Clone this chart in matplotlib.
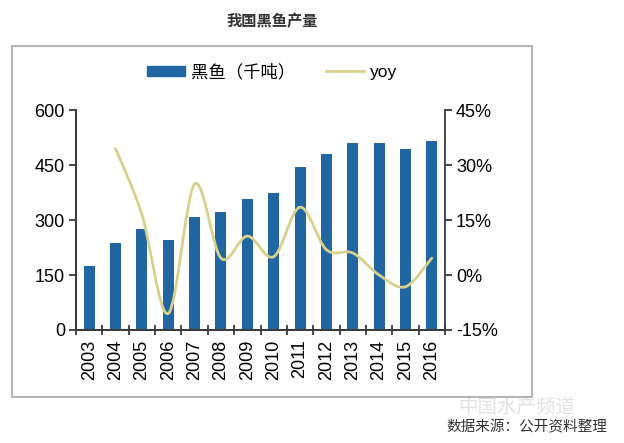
import matplotlib.pyplot as plt
from matplotlib.path import Path
from matplotlib.patches import PathPatch, Rectangle
from matplotlib.lines import Line2D
from matplotlib.ticker import FuncFormatter

plt.rcParams['font.family'] = ['Liberation Sans', 'Noto Sans CJK SC', 'DejaVu Sans']

# 数据
years = ['2003', '2004', '2005', '2006', '2007', '2008', '2009',
         '2010', '2011', '2012', '2013', '2014', '2015', '2016']
output = [175, 236, 276, 246, 309, 323, 357, 375, 445, 479, 509, 509, 494, 516]
yoy = [None, 34.5, 16.5, -10.5, 24.8, 4.6, 10.6, 5.0, 18.5, 6.9, 6.0, 0.0, -3.2, 4.6]

bar_color = '#1f66a3'
line_color = '#d8d18c'
spine_color = '#3a3a3a'

fig = plt.figure(figsize=(6.24, 4.43), dpi=100)
fig.patch.set_facecolor('white')

# 外框
fig.patches.append(Rectangle((12 / 624, 1 - 397 / 443), 520 / 624, 351 / 443,
                             transform=fig.transFigure, fill=False,
                             edgecolor='#b5b5b5', lw=1.5))

ax = fig.add_axes([76 / 624, 1 - 330 / 443, 369 / 624, 220 / 443])
ax2 = ax.twinx()

x = list(range(len(years)))
ax.bar(x, output, width=0.42, color=bar_color, zorder=2)
ax.set_ylim(0, 600)
ax.set_yticks([0, 150, 300, 450, 600])
ax.set_xlim(-0.5, len(years) - 0.5)
ax.set_xticks(x)
ax.set_xticklabels(years, rotation=90)
ax.set_xticks([i - 0.5 for i in range(len(years) + 1)], minor=True)
ax.tick_params(axis='x', which='major', length=0, labelsize=13, pad=7)
ax.tick_params(axis='x', which='minor', direction='inout', length=7,
               width=1.3, color=spine_color)
ax.tick_params(axis='y', direction='out', length=5, width=1.3,
               color=spine_color, labelsize=13, pad=3)

# yoy 平滑曲线（贝塞尔）
pts = [(i, v) for i, v in zip(x, yoy) if v is not None]
verts = [pts[0]]
codes = [Path.MOVETO]
for k in range(len(pts) - 1):
    p0 = pts[k - 1] if k > 0 else pts[k]
    p1 = pts[k]
    p2 = pts[k + 1]
    p3 = pts[k + 2] if k + 2 < len(pts) else pts[k + 1]
    c1 = (p1[0] + (p2[0] - p0[0]) / 6, p1[1] + (p2[1] - p0[1]) / 6)
    c2 = (p2[0] - (p3[0] - p1[0]) / 6, p2[1] - (p3[1] - p1[1]) / 6)
    verts += [c1, c2, p2]
    codes += [Path.CURVE4] * 3
ax2.add_patch(PathPatch(Path(verts, codes), fill=False, edgecolor=line_color,
                        lw=2.0, zorder=3, capstyle='round'))
ax2.set_ylim(-15, 45)
ax2.set_yticks([-15, 0, 15, 30, 45])
ax2.yaxis.set_major_formatter(FuncFormatter(lambda v, p: '%d%%' % v))
ax2.tick_params(axis='y', direction='out', length=5, width=1.3,
                color=spine_color, labelsize=13, pad=3)

for a in (ax, ax2):
    a.spines['top'].set_visible(False)
    for s in ('left', 'right', 'bottom'):
        a.spines[s].set_color(spine_color)
        a.spines[s].set_linewidth(1.3)
ax.spines['right'].set_visible(False)

# 图例
handles = [Rectangle((0, 0), 1, 1, color=bar_color),
           Line2D([0], [0], color=line_color, lw=2.0)]
leg = fig.legend(handles, ['黑鱼（千吨）', 'yoy'], loc='center',
                 bbox_to_anchor=(272 / 624, 1 - 72 / 443), ncol=2,
                 frameon=False, fontsize=12.5, handlelength=2.2,
                 handleheight=0.55, handletextpad=0.3, columnspacing=1.8)
leg.get_texts()[0].set_fontfamily(['Noto Sans CJK SC', 'DejaVu Sans'])

fig.text(272 / 624, 1 - 21 / 443, '我国黑鱼产量', ha='center', va='center',
         fontsize=11, fontweight='bold', color='#333333',
         family=['Noto Sans CJK SC', 'DejaVu Sans'])

# 水印
fig.text(517 / 624, 1 - 407 / 443, '中国水产频道', ha='center', va='center',
         fontsize=14, color='#e2e2e2', style='italic', zorder=0,
         family=['Noto Sans CJK SC', 'DejaVu Sans'])

fig.text(607 / 624, 1 - 427 / 443, '数据来源：公开资料整理', ha='right',
         va='center', fontsize=10.5, color='#333333',
         family=['Noto Sans CJK SC', 'DejaVu Sans'])

fig.savefig('out.png', dpi=100)
